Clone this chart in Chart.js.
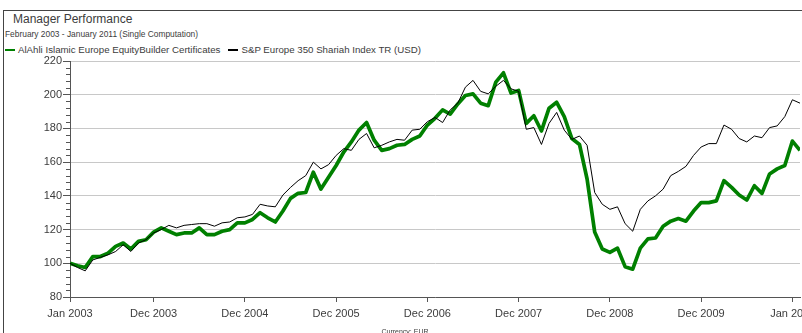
<!DOCTYPE html>
<html>
<head>
<meta charset="utf-8">
<title>Manager Performance</title>
<script src="https://cdn.jsdelivr.net/npm/chart.js@4.4.0/dist/chart.umd.min.js"></script>
<style>
  html, body { margin: 0; padding: 0; background: #fff; overflow: hidden; }
  body { width: 802px; height: 333px; position: relative; font-family: "Liberation Sans", Arial, sans-serif; color: #3c3c3c; }
  #frame { position: absolute; left: 3px; top: 10px; width: 820px; height: 340px; border-left: 1px solid #444; border-top: 1px solid #444; }
  #title { position: absolute; left: 13px; top: 12px; font-size: 12px; white-space: nowrap; }
  #subtitle { position: absolute; left: 5px; top: 29px; font-size: 8.4px; white-space: nowrap; }
  #legend { position: absolute; left: 5px; top: 44px; font-size: 9.7px; white-space: nowrap; display: flex; align-items: center; }
  #legend .swatch { display: inline-block; width: 10px; height: 2px; margin-right: 3px; }
  #legend .item { display: flex; align-items: center; margin-right: 8px; }
  #currency { position: absolute; left: 0; width: 810px; top: 328px; text-align: center; font-size: 7px; }
  #chart { position: absolute; left: 0; top: 0; }
</style>
</head>
<body>
<div id="frame"></div>
<div id="title">Manager Performance</div>
<div id="subtitle">February 2003 - January 2011 (Single Computation)</div>
<div id="legend"></div>
<canvas id="chart" width="830" height="333"></canvas>
<div id="currency">Currency: EUR</div>

<script>
// month-end values, Jan 2003 = 100
const fundName = "AlAhli Islamic Europe EquityBuilder Certificates";
const indexName = "S&P Europe 350 Shariah Index TR (USD)";

const fundValues = [
    100, 98.5, 97.5, 104, 104, 106, 110, 112, 108.5, 113, 114, 118.5,
    121, 119, 117, 118, 118, 121, 117, 117, 119, 120, 124, 124,
    126, 130, 127, 124.5, 131, 138.5, 141.5, 142, 154, 144, 151, 158,
    166, 172, 179, 183.5, 173, 167, 168, 170, 170.5, 173.5, 175.5, 182,
    186, 191, 188.5, 194.5, 199.5, 200.5, 195, 193.5, 207.5, 213, 201, 202.5,
    183, 187.5, 178.5, 192, 195.5, 187, 174, 170.5, 150, 118.5, 108.5, 106.5,
    109, 98, 96.5, 109, 114.5, 115, 122, 125, 126.5, 125, 131, 136,
    136, 137, 149, 145, 140.5, 137.5, 146, 141.5, 153, 156, 158, 172.5,
    167
];

const indexValues = [
    100, 97.5, 95.5, 102, 103.5, 105, 107, 111, 107, 112, 114, 118,
    120, 122.5, 121, 122.5, 123, 123.5, 123.5, 122, 124, 124.5, 127, 127.5,
    129, 135, 134, 133.5, 140.5, 145, 149, 152, 160, 156, 158.5, 164,
    168, 167, 173.5, 177, 168.5, 170, 172, 173.5, 173, 179, 179.5, 184,
    186.5, 183.5, 191, 195, 204.5, 208.5, 202, 200.5, 205, 208.5, 203.5, 202,
    179.5, 180.5, 170.5, 183, 189.5, 179, 173.5, 175.5, 170, 142, 135, 132,
    133.5, 123.5, 119, 132, 137, 140, 144, 152, 154.5, 157.5, 164, 169,
    171, 171, 182, 179.5, 174, 172, 175.5, 174.5, 180.5, 181.5, 187, 197,
    195
];

// x axis: month index -> label
const tickPos = [0, 11, 23, 35, 47, 59, 71, 83, 95];
const tickLabels = ["Jan 2003", "Dec 2003", "Dec 2004", "Dec 2005", "Dec 2006",
                    "Dec 2007", "Dec 2008", "Dec 2009", "Jan 2011"];

const yMin = 80, yMax = 220, yStep = 20, yMinorStep = 4;

const FONT = "'Liberation Sans', Arial, sans-serif";
const GREEN = "#008000";
const TEXT = "#3c3c3c";
const AXIS = "#555555";

/* ---------- legend ---------- */
function addLegendItem(label, color) {
    const item = document.createElement("span");
    item.className = "item";
    item.innerHTML = `<span class="swatch" style="background:${color}"></span>${label}`;
    document.getElementById("legend").appendChild(item);
}
addLegendItem(fundName, GREEN);
addLegendItem(indexName, "#000");

/* ---------- minor ticks on the value axis ---------- */
const minorTicks = {
    id: "minorTicks",
    afterDraw(chart) {
        const y = chart.scales.y;
        const ctx = chart.ctx;
        ctx.save();
        ctx.strokeStyle = AXIS;
        ctx.lineWidth = 1;
        for (let v = y.min; v <= y.max; v += yMinorStep) {
            if (v % yStep === 0) continue;
            const py = Math.round(y.getPixelForValue(v)) + 0.5;
            ctx.beginPath();
            ctx.moveTo(y.right - 4, py);
            ctx.lineTo(y.right, py);
            ctx.stroke();
        }
        ctx.restore();
    }
};

const toPoints = arr => arr.map((v, i) => ({ x: i, y: v }));

new Chart(document.getElementById("chart"), {
    type: "line",
    data: {
        datasets: [
            {
                label: indexName,
                data: toPoints(indexValues),
                borderColor: "#000",
                borderWidth: 1,
                pointRadius: 0,
                tension: 0,
                order: 0
            },
            {
                label: fundName,
                data: toPoints(fundValues),
                borderColor: GREEN,
                borderWidth: 3.7,
                borderJoinStyle: "round",
                pointRadius: 0,
                tension: 0,
                order: 1
            }
        ]
    },
    options: {
        responsive: false,
        animation: false,
        layout: { padding: { top: 61, right: 30, left: 0, bottom: 0 } },
        plugins: { legend: { display: false }, tooltip: { enabled: false } },
        scales: {
            x: {
                type: "linear",
                min: 0,
                max: fundValues.length - 1,
                afterBuildTicks: axis => { axis.ticks = tickPos.map(v => ({ value: v })); },
                afterFit: axis => { axis.height = 36; },
                grid: { drawOnChartArea: false, drawTicks: true, tickLength: 5, tickColor: AXIS },
                border: { color: AXIS, width: 1 },
                ticks: {
                    autoSkip: false,
                    maxRotation: 0,
                    padding: 5,
                    color: TEXT,
                    font: { family: FONT, size: 11 },
                    callback: (v, i) => tickLabels[i]
                }
            },
            y: {
                min: yMin,
                max: yMax,
                afterFit: axis => { axis.width = 70; },
                grid: { color: "#c8c8c8", lineWidth: 1, tickLength: 7, tickColor: AXIS },
                border: { color: AXIS, width: 1 },
                ticks: {
                    stepSize: yStep,
                    padding: 1,
                    color: TEXT,
                    font: { family: FONT, size: 11 }
                }
            }
        }
    },
    plugins: [minorTicks]
});
</script>
</body>
</html>
